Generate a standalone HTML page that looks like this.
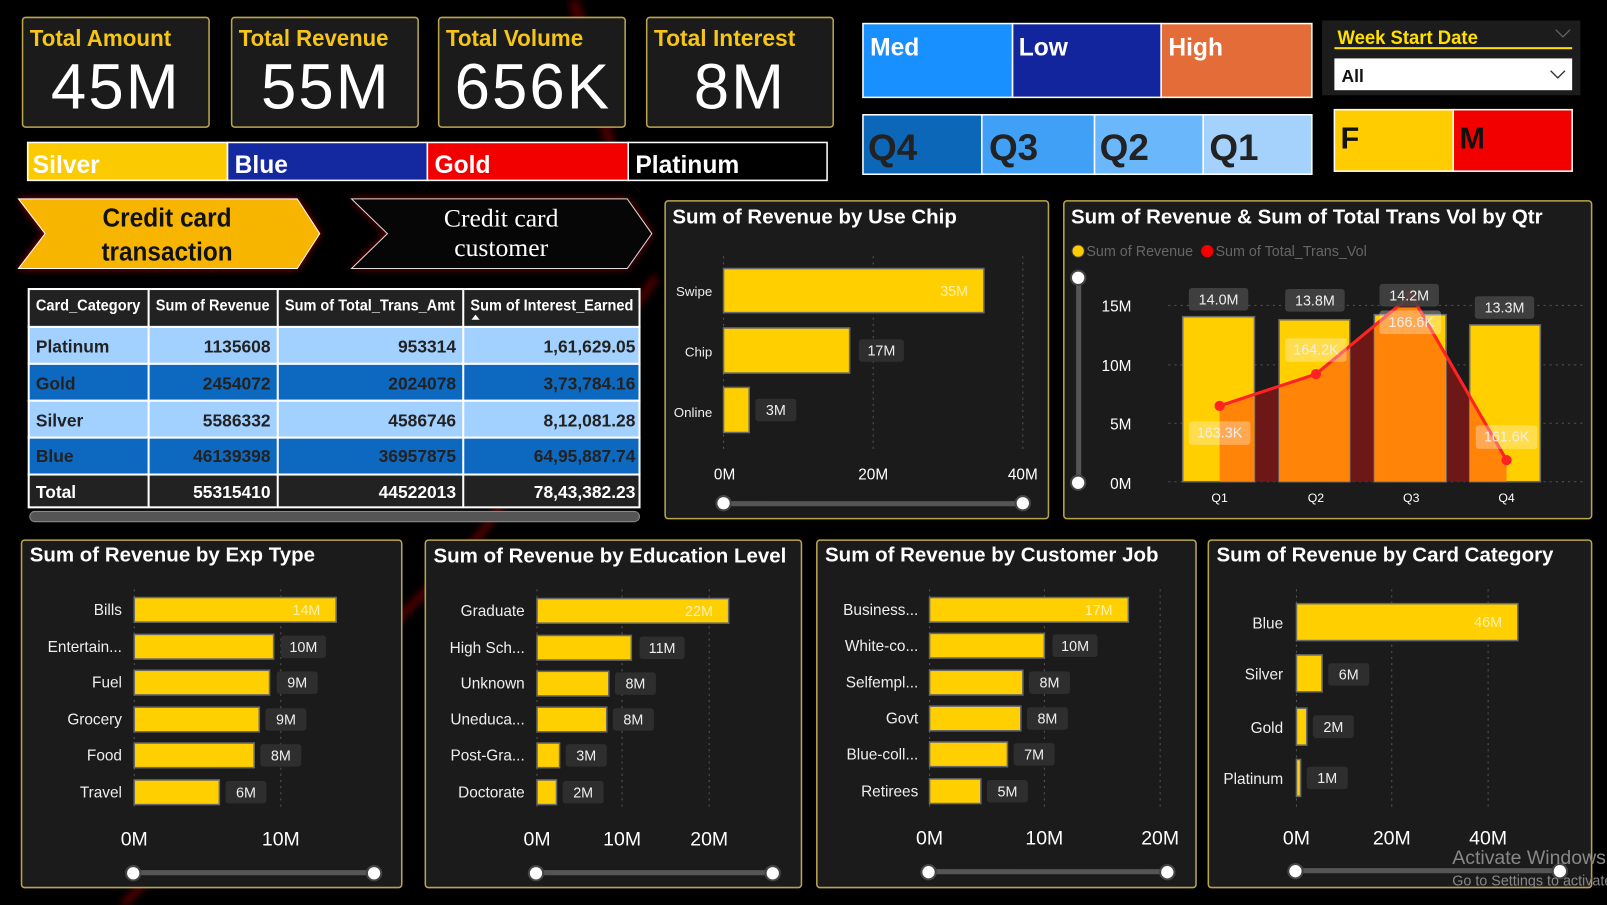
<!DOCTYPE html>
<html><head><meta charset="utf-8">
<style>
html,body{margin:0;padding:0;background:#000;width:1607px;height:905px;overflow:hidden}
svg{display:block}
text{font-family:"Liberation Sans Narrow","Liberation Sans",sans-serif}
.tt{font-weight:bold;fill:#fff;font-size:20px}
.cl{fill:#eee;font-size:15px;text-anchor:end}
.lb{fill:#eee;font-size:14px;text-anchor:middle}
.ax{fill:#fff;font-size:19px;text-anchor:middle}
.bar{fill:#ffcf00;stroke:#6a6a6a;stroke-width:1.5}
.lbox{fill:#2e2e2e}
.pan{fill:#1b1b1b;stroke:#b9a54e;stroke-width:1.5}
.grid{stroke:#555;stroke-width:1;stroke-dasharray:2 4}
.th{fill:#fff;font-size:15px;font-weight:bold}
.td{fill:#222;font-size:17px;font-weight:bold}
</style></head><body>
<svg width="1607" height="905" viewBox="0 0 1568 883" preserveAspectRatio="none">
<defs>
<filter id="glow" x="-20%" y="-30%" width="140%" height="160%"><feGaussianBlur stdDeviation="4"/></filter>
<clipPath id="bars"><rect x="1154" y="300" width="70" height="170"/><rect x="1248" y="300" width="69" height="170"/><rect x="1341" y="300" width="70" height="170"/><rect x="1434" y="300" width="69" height="170"/></clipPath>
</defs>
<rect width="1568" height="883" fill="#000"/>
<path d="M120 883 L470 520 L640 270" stroke="#a00" stroke-width="6" fill="none" opacity="0.6" filter="url(#glow)"/>
<path d="M560 0 L600 160" stroke="#900" stroke-width="10" fill="none" opacity="0.5" filter="url(#glow)"/>

<g>
<rect x="22" y="17" width="182" height="107" rx="3" class="pan"/>
<text x="29" y="45" font-size="23" font-weight="bold" fill="#f5c518" textLength="138" lengthAdjust="spacingAndGlyphs">Total Amount</text>
<text x="113" y="106" font-size="62" fill="#fff" text-anchor="middle" style="font-family:'Liberation Sans',sans-serif" letter-spacing="2">45M</text>
<rect x="226" y="17" width="182" height="107" rx="3" class="pan"/>
<text x="233" y="45" font-size="23" font-weight="bold" fill="#f5c518" textLength="146" lengthAdjust="spacingAndGlyphs">Total Revenue</text>
<text x="318" y="106" font-size="62" fill="#fff" text-anchor="middle" style="font-family:'Liberation Sans',sans-serif" letter-spacing="2">55M</text>
<rect x="428" y="17" width="182" height="107" rx="3" class="pan"/>
<text x="435" y="45" font-size="23" font-weight="bold" fill="#f5c518" textLength="134" lengthAdjust="spacingAndGlyphs">Total Volume</text>
<text x="520" y="106" font-size="62" fill="#fff" text-anchor="middle" style="font-family:'Liberation Sans',sans-serif" letter-spacing="2">656K</text>
<rect x="631" y="17" width="182" height="107" rx="3" class="pan"/>
<text x="638" y="45" font-size="23" font-weight="bold" fill="#f5c518" textLength="138" lengthAdjust="spacingAndGlyphs">Total Interest</text>
<text x="722" y="106" font-size="62" fill="#fff" text-anchor="middle" style="font-family:'Liberation Sans',sans-serif" letter-spacing="2">8M</text>
</g>

<g stroke="#fff" stroke-width="1.5">
<rect x="27" y="139" width="195" height="37" fill="#fcca00"/>
<rect x="222" y="139" width="195" height="37" fill="#1428a0"/>
<rect x="417" y="139" width="196" height="37" fill="#f20000"/>
<rect x="613" y="139" width="194" height="37" fill="#000"/>
</g>
<g font-size="24" font-weight="bold" fill="#fff">
<text x="32" y="169">Silver</text><text x="229" y="169">Blue</text><text x="424" y="169">Gold</text><text x="620" y="169">Platinum</text>
</g>

<polygon points="18,194 290,194 312,228 290,262 18,262 44,228" fill="#c00" filter="url(#glow)" opacity="0.9"/>
<polygon points="18,194 290,194 312,228 290,262 18,262 44,228" fill="#f7b500" stroke="#fff" stroke-width="1"/>
<text x="163" y="221" font-size="25" font-weight="bold" fill="#111" text-anchor="middle" textLength="126" lengthAdjust="spacingAndGlyphs">Credit card</text>
<text x="163" y="254" font-size="25" font-weight="bold" fill="#111" text-anchor="middle" textLength="128" lengthAdjust="spacingAndGlyphs">transaction</text>
<polygon points="343,194 612,194 636,228 612,262 343,262 378,228" fill="#b00" filter="url(#glow)" opacity="0.8"/>
<polygon points="343,194 612,194 636,228 612,262 343,262 378,228" fill="#060606" stroke="#ddd" stroke-width="1"/>
<text x="489" y="221" font-size="25" fill="#fff" text-anchor="middle" style="font-family:'Liberation Serif',serif">Credit card</text>
<text x="489" y="250" font-size="25" fill="#fff" text-anchor="middle" style="font-family:'Liberation Serif',serif">customer</text>

<g stroke="#fff" stroke-width="2">
<rect x="28" y="282" width="596" height="37" fill="#222"/>
<rect x="28" y="319" width="596" height="36" fill="#a3d1ff"/>
<rect x="28" y="355" width="596" height="36" fill="#0d68c0"/>
<rect x="28" y="391" width="596" height="36" fill="#a3d1ff"/>
<rect x="28" y="427" width="596" height="36" fill="#0d68c0"/>
<rect x="28" y="463" width="596" height="32" fill="#222"/>
<line x1="145" y1="282" x2="145" y2="495"/><line x1="271" y1="282" x2="271" y2="495"/><line x1="452" y1="282" x2="452" y2="495"/>
</g>
<text x="35" y="303" class="th" textLength="102" lengthAdjust="spacingAndGlyphs">Card_Category</text>
<text x="152" y="303" class="th" textLength="111" lengthAdjust="spacingAndGlyphs">Sum of Revenue</text>
<text x="278" y="303" class="th" textLength="166" lengthAdjust="spacingAndGlyphs">Sum of Total_Trans_Amt</text>
<text x="459" y="303" class="th" textLength="159" lengthAdjust="spacingAndGlyphs">Sum of Interest_Earned</text>
<polygon points="460,312 464,307 468,312" fill="#fff"/>
<g>
<text x="35" y="344" class="td">Platinum</text><text x="264" y="344" class="td" text-anchor="end">1135608</text><text x="445" y="344" class="td" text-anchor="end">953314</text><text x="620" y="344" class="td" text-anchor="end">1,61,629.05</text>
<text x="35" y="380" class="td">Gold</text><text x="264" y="380" class="td" text-anchor="end">2454072</text><text x="445" y="380" class="td" text-anchor="end">2024078</text><text x="620" y="380" class="td" text-anchor="end">3,73,784.16</text>
<text x="35" y="416" class="td">Silver</text><text x="264" y="416" class="td" text-anchor="end">5586332</text><text x="445" y="416" class="td" text-anchor="end">4586746</text><text x="620" y="416" class="td" text-anchor="end">8,12,081.28</text>
<text x="35" y="451" class="td">Blue</text><text x="264" y="451" class="td" text-anchor="end">46139398</text><text x="445" y="451" class="td" text-anchor="end">36957875</text><text x="620" y="451" class="td" text-anchor="end">64,95,887.74</text>
<text x="35" y="486" class="td" style="fill:#fff">Total</text><text x="264" y="486" text-anchor="end" class="td" style="fill:#fff">55315410</text><text x="445" y="486" text-anchor="end" class="td" style="fill:#fff">44522013</text><text x="620" y="486" text-anchor="end" class="td" style="fill:#fff">78,43,382.23</text>
</g>
<rect x="29" y="499" width="595" height="10" rx="5" fill="#555" stroke="#888" stroke-width="1"/>

<g stroke="#fff" stroke-width="1.5">
<rect x="842" y="23" width="146" height="72" fill="#1890ff"/><rect x="988" y="23" width="145" height="72" fill="#12259c"/><rect x="1133" y="23" width="147" height="72" fill="#e46c38"/>
</g>
<g font-size="24" font-weight="bold" fill="#fff"><text x="849" y="54">Med</text><text x="994" y="54">Low</text><text x="1140" y="54">High</text></g>
<g stroke="#fff" stroke-width="1.5">
<rect x="842" y="112" width="116" height="58" fill="#0d67b8"/><rect x="958" y="112" width="110" height="58" fill="#3fa0f5"/><rect x="1068" y="112" width="106" height="58" fill="#6ab7fb"/><rect x="1174" y="112" width="106" height="58" fill="#a4d2fd"/>
</g>
<g font-size="36" font-weight="bold" fill="#222"><text x="847" y="156">Q4</text><text x="965" y="156">Q3</text><text x="1073" y="156">Q2</text><text x="1180" y="156">Q1</text></g>
<rect x="1290" y="20" width="252" height="73" fill="#1c1c1c"/>
<text x="1305" y="43" font-size="19" font-weight="bold" fill="#ffe000" textLength="137" lengthAdjust="spacingAndGlyphs">Week Start Date</text>
<rect x="1302" y="46" width="232" height="2" fill="#ffe000"/>
<polyline points="1518,29 1525,36 1532,29" stroke="#666" fill="none" stroke-width="1.2"/>
<rect x="1302" y="57" width="232" height="31" fill="#fff"/>
<text x="1309" y="80" font-size="17" font-weight="bold" fill="#111">All</text>
<polyline points="1513,69 1520,76 1527,69" stroke="#333" fill="none" stroke-width="1.3"/>
<g stroke="#fff" stroke-width="1.5"><rect x="1302" y="107" width="116" height="60" fill="#ffcc00"/><rect x="1418" y="107" width="116" height="60" fill="#f20000"/></g>
<g font-size="30" font-weight="bold" fill="#111"><text x="1308" y="145">F</text><text x="1424" y="145">M</text></g>

<rect x="649" y="196" width="374" height="310" rx="3" class="pan"/>
<text x="656" y="218" class="tt">Sum of Revenue by Use Chip</text>
<g class="grid"><line x1="706" y1="250" x2="706" y2="440"/><line x1="852" y1="250" x2="852" y2="440"/><line x1="998" y1="250" x2="998" y2="440"/></g>
<rect x="706" y="262" width="254" height="43" class="bar"/>
<text x="931" y="289" class="lb" style="fill:#fff2b0">35M</text>
<rect x="706" y="320" width="123" height="44" class="bar"/>
<rect x="838" y="331" width="44" height="22" rx="3" class="lbox"/><text x="860" y="347" class="lb">17M</text>
<rect x="706" y="378" width="25" height="44" class="bar"/>
<rect x="737" y="389" width="40" height="22" rx="3" class="lbox"/><text x="757" y="405" class="lb">3M</text>
<g font-size="13" fill="#eee" text-anchor="end"><text x="695" y="289">Swipe</text><text x="695" y="348">Chip</text><text x="695" y="407">Online</text></g>
<g font-size="15" fill="#fff" text-anchor="middle"><text x="707" y="468">0M</text><text x="852" y="468">20M</text><text x="998" y="468">40M</text></g>
<rect x="706" y="489" width="292" height="5" rx="2" fill="#555"/>
<circle cx="706" cy="491" r="7" fill="#fff" stroke="#444" stroke-width="2"/><circle cx="998" cy="491" r="7" fill="#fff" stroke="#444" stroke-width="2"/>

<rect x="1038" y="196" width="515" height="310" rx="3" class="pan"/>
<text x="1045" y="218" class="tt">Sum of Revenue &amp; Sum of Total Trans Vol by Qtr</text>
<circle cx="1052" cy="245" r="6" fill="#ffcc00" stroke="#444"/><text x="1060" y="250" font-size="14" fill="#666">Sum of Revenue</text>
<circle cx="1178" cy="245" r="6" fill="#f20000"/><text x="1186" y="250" font-size="14" fill="#666">Sum of Total_Trans_Vol</text>
<rect x="1050" y="271" width="5" height="200" fill="#555"/>
<circle cx="1052" cy="271" r="7" fill="#fff" stroke="#444" stroke-width="2"/><circle cx="1052" cy="471" r="7" fill="#fff" stroke="#444" stroke-width="2"/>
<g class="grid"><line x1="1140" y1="298" x2="1545" y2="298"/><line x1="1140" y1="356" x2="1545" y2="356"/><line x1="1140" y1="413" x2="1545" y2="413"/><line x1="1140" y1="470" x2="1545" y2="470"/></g>
<g font-size="15" fill="#fff" text-anchor="end"><text x="1104" y="304">15M</text><text x="1104" y="362">10M</text><text x="1104" y="419">5M</text><text x="1104" y="477">0M</text></g>
<polygon points="1190,396 1284,365 1377,288 1470,449 1470,470 1190,470" fill="#6e1717"/>
<rect x="1154" y="309" width="70" height="161" class="bar"/>
<rect x="1248" y="312" width="69" height="158" class="bar"/>
<rect x="1341" y="307" width="70" height="163" class="bar"/>
<rect x="1434" y="317" width="69" height="153" class="bar"/>
<polygon points="1190,396 1284,365 1377,288 1470,449 1470,470 1190,470" fill="#ff8408" clip-path="url(#bars)"/>
<polyline points="1190,396 1284,365 1377,288 1470,449" fill="none" stroke="#f22" stroke-width="3"/>
<g fill="#f22"><circle cx="1190" cy="396" r="5"/><circle cx="1284" cy="365" r="5"/><circle cx="1377" cy="288" r="5"/><circle cx="1470" cy="449" r="5"/></g>
<g fill="#444" opacity="0.9"><rect x="1160" y="281" width="58" height="22" rx="3"/><rect x="1254" y="282" width="58" height="22" rx="3"/><rect x="1346" y="277" width="58" height="22" rx="3"/><rect x="1439" y="289" width="58" height="22" rx="3"/></g>
<g fill="#fff" opacity="0.3"><rect x="1160" y="411" width="60" height="23" rx="3"/><rect x="1254" y="330" width="60" height="23" rx="3"/><rect x="1346" y="303" width="60" height="23" rx="3"/><rect x="1440" y="415" width="60" height="23" rx="3"/></g>
<g><text x="1189" y="297" class="lb">14.0M</text><text x="1283" y="298" class="lb">13.8M</text><text x="1375" y="293" class="lb">14.2M</text><text x="1468" y="305" class="lb">13.3M</text>
<text x="1190" y="427" class="lb">163.3K</text><text x="1284" y="346" class="lb">164.2K</text><text x="1377" y="319" class="lb">166.6K</text><text x="1470" y="431" class="lb">161.6K</text></g>
<g font-size="12" fill="#fff" text-anchor="middle"><text x="1190" y="490">Q1</text><text x="1284" y="490">Q2</text><text x="1377" y="490">Q3</text><text x="1470" y="490">Q4</text></g>

<rect x="21" y="527" width="371" height="339" rx="3" class="pan"/>
<text x="29" y="548" class="tt">Sum of Revenue by Exp Type</text>
<g class="grid"><line x1="131" y1="575" x2="131" y2="790"/><line x1="274" y1="575" x2="274" y2="790"/></g>
<rect x="131" y="583" width="197" height="24" class="bar"/><text x="299" y="600" class="lb" style="fill:#fff2b0">14M</text>
<rect x="131" y="619" width="136" height="24" class="bar"/><rect x="274" y="620" width="44" height="22" rx="3" class="lbox"/><text x="296" y="636" class="lb">10M</text>
<rect x="131" y="654" width="132" height="24" class="bar"/><rect x="270" y="655" width="40" height="22" rx="3" class="lbox"/><text x="290" y="671" class="lb">9M</text>
<rect x="131" y="690" width="122" height="24" class="bar"/><rect x="259" y="691" width="40" height="22" rx="3" class="lbox"/><text x="279" y="707" class="lb">9M</text>
<rect x="131" y="725" width="117" height="24" class="bar"/><rect x="254" y="726" width="40" height="22" rx="3" class="lbox"/><text x="274" y="742" class="lb">8M</text>
<rect x="131" y="761" width="83" height="24" class="bar"/><rect x="220" y="762" width="40" height="22" rx="3" class="lbox"/><text x="240" y="778" class="lb">6M</text>
<g><text x="119" y="600" class="cl">Bills</text><text x="119" y="636" class="cl">Entertain...</text><text x="119" y="671" class="cl">Fuel</text><text x="119" y="707" class="cl">Grocery</text><text x="119" y="742" class="cl">Food</text><text x="119" y="778" class="cl">Travel</text></g>
<text x="131" y="825" class="ax">0M</text><text x="274" y="825" class="ax">10M</text>
<rect x="130" y="849" width="235" height="5" rx="2" fill="#555"/><circle cx="130" cy="852" r="7" fill="#fff" stroke="#444" stroke-width="2"/><circle cx="365" cy="852" r="7" fill="#fff" stroke="#444" stroke-width="2"/>

<rect x="415" y="527" width="367" height="339" rx="3" class="pan"/>
<text x="423" y="549" class="tt">Sum of Revenue by Education Level</text>
<g class="grid"><line x1="524" y1="575" x2="524" y2="790"/><line x1="607" y1="575" x2="607" y2="790"/><line x1="692" y1="575" x2="692" y2="790"/></g>
<rect x="524" y="584" width="187" height="24" class="bar"/><text x="682" y="601" class="lb" style="fill:#fff2b0">22M</text>
<rect x="524" y="620" width="92" height="24" class="bar"/><rect x="624" y="621" width="44" height="22" rx="3" class="lbox"/><text x="646" y="637" class="lb">11M</text>
<rect x="524" y="655" width="70" height="24" class="bar"/><rect x="600" y="656" width="40" height="22" rx="3" class="lbox"/><text x="620" y="672" class="lb">8M</text>
<rect x="524" y="690" width="68" height="24" class="bar"/><rect x="598" y="691" width="40" height="22" rx="3" class="lbox"/><text x="618" y="707" class="lb">8M</text>
<rect x="524" y="725" width="22" height="24" class="bar"/><rect x="552" y="726" width="40" height="22" rx="3" class="lbox"/><text x="572" y="742" class="lb">3M</text>
<rect x="524" y="761" width="19" height="24" class="bar"/><rect x="549" y="762" width="40" height="22" rx="3" class="lbox"/><text x="569" y="778" class="lb">2M</text>
<g><text x="512" y="601" class="cl">Graduate</text><text x="512" y="637" class="cl">High Sch...</text><text x="512" y="672" class="cl">Unknown</text><text x="512" y="707" class="cl">Uneduca...</text><text x="512" y="742" class="cl">Post-Gra...</text><text x="512" y="778" class="cl">Doctorate</text></g>
<text x="524" y="825" class="ax">0M</text><text x="607" y="825" class="ax">10M</text><text x="692" y="825" class="ax">20M</text>
<rect x="523" y="849" width="231" height="5" rx="2" fill="#555"/><circle cx="523" cy="852" r="7" fill="#fff" stroke="#444" stroke-width="2"/><circle cx="754" cy="852" r="7" fill="#fff" stroke="#444" stroke-width="2"/>

<rect x="797" y="527" width="370" height="339" rx="3" class="pan"/>
<text x="805" y="548" class="tt">Sum of Revenue by Customer Job</text>
<g class="grid"><line x1="907" y1="575" x2="907" y2="790"/><line x1="1019" y1="575" x2="1019" y2="790"/><line x1="1132" y1="575" x2="1132" y2="790"/></g>
<rect x="907" y="583" width="194" height="24" class="bar"/><text x="1072" y="600" class="lb" style="fill:#fff2b0">17M</text>
<rect x="907" y="618" width="112" height="24" class="bar"/><rect x="1027" y="619" width="44" height="22" rx="3" class="lbox"/><text x="1049" y="635" class="lb">10M</text>
<rect x="907" y="654" width="91" height="24" class="bar"/><rect x="1004" y="655" width="40" height="22" rx="3" class="lbox"/><text x="1024" y="671" class="lb">8M</text>
<rect x="907" y="689" width="89" height="24" class="bar"/><rect x="1002" y="690" width="40" height="22" rx="3" class="lbox"/><text x="1022" y="706" class="lb">8M</text>
<rect x="907" y="724" width="76" height="24" class="bar"/><rect x="989" y="725" width="40" height="22" rx="3" class="lbox"/><text x="1009" y="741" class="lb">7M</text>
<rect x="907" y="760" width="50" height="24" class="bar"/><rect x="963" y="761" width="40" height="22" rx="3" class="lbox"/><text x="983" y="777" class="lb">5M</text>
<g><text x="896" y="600" class="cl">Business...</text><text x="896" y="635" class="cl">White-co...</text><text x="896" y="671" class="cl">Selfempl...</text><text x="896" y="706" class="cl">Govt</text><text x="896" y="741" class="cl">Blue-coll...</text><text x="896" y="777" class="cl">Retirees</text></g>
<text x="907" y="824" class="ax">0M</text><text x="1019" y="824" class="ax">10M</text><text x="1132" y="824" class="ax">20M</text>
<rect x="906" y="848" width="233" height="5" rx="2" fill="#555"/><circle cx="906" cy="851" r="7" fill="#fff" stroke="#444" stroke-width="2"/><circle cx="1139" cy="851" r="7" fill="#fff" stroke="#444" stroke-width="2"/>

<rect x="1179" y="527" width="374" height="339" rx="3" class="pan"/>
<text x="1187" y="548" class="tt">Sum of Revenue by Card Category</text>
<g class="grid"><line x1="1265" y1="575" x2="1265" y2="790"/><line x1="1358" y1="575" x2="1358" y2="790"/><line x1="1452" y1="575" x2="1452" y2="790"/></g>
<rect x="1265" y="589" width="216" height="36" class="bar"/><text x="1452" y="612" class="lb" style="fill:#fff2b0">46M</text>
<rect x="1265" y="639" width="25" height="36" class="bar"/><rect x="1296" y="647" width="40" height="22" rx="3" class="lbox"/><text x="1316" y="663" class="lb">6M</text>
<rect x="1265" y="691" width="10" height="36" class="bar"/><rect x="1281" y="698" width="40" height="22" rx="3" class="lbox"/><text x="1301" y="714" class="lb">2M</text>
<rect x="1265" y="741" width="4" height="36" class="bar"/><rect x="1275" y="748" width="40" height="22" rx="3" class="lbox"/><text x="1295" y="764" class="lb">1M</text>
<g><text x="1252" y="613" class="cl">Blue</text><text x="1252" y="663" class="cl">Silver</text><text x="1252" y="715" class="cl">Gold</text><text x="1252" y="765" class="cl">Platinum</text></g>
<text x="1265" y="824" class="ax">0M</text><text x="1358" y="824" class="ax">20M</text><text x="1452" y="824" class="ax">40M</text>
<rect x="1264" y="847" width="258" height="5" rx="2" fill="#555"/><circle cx="1264" cy="850" r="7" fill="#fff" stroke="#444" stroke-width="2"/><circle cx="1522" cy="850" r="7" fill="#fff" stroke="#444" stroke-width="2"/>
<text x="1417" y="843" font-size="19" fill="#888" style="font-family:'Liberation Sans',sans-serif">Activate Windows</text>
<text x="1417" y="864" font-size="14" fill="#888" style="font-family:'Liberation Sans',sans-serif">Go to Settings to activate</text>
</svg>
</body></html>
